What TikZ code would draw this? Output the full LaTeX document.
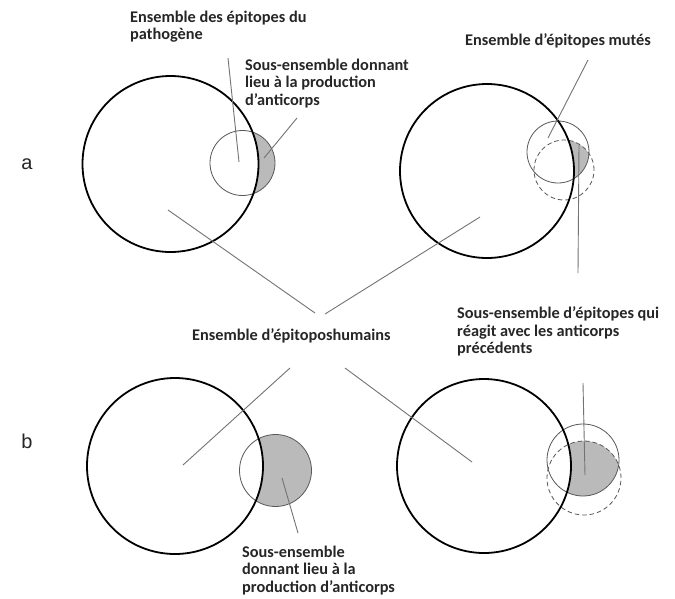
\documentclass[tikz,border=0pt]{standalone}
\usepackage{fontspec}
\setmainfont{Carlito}
\newfontfamily\letterfont{Liberation Sans}
\begin{document}
\begin{tikzpicture}[x=1pt,y=-1pt,
  bigc/.style={draw=black,line width=1.8pt},
  smallc/.style={draw=black!65,line width=0.8pt},
  dashc/.style={draw=black!65,line width=0.8pt,dash pattern=on 4.5pt off 3pt},
  conn/.style={draw=black!55,line width=0.9pt},
  shade/.style={fill=black!27},
  lbl/.style={font=\fontsize{16.3}{17.5}\selectfont\bfseries,text=black!85,inner sep=0pt,align=left,anchor=north west},
  letter/.style={font=\letterfont\fontsize{20}{22}\selectfont,text=black!85,inner sep=0pt}]
\fill[white] (0,0) rectangle (675,598);
\useasboundingbox (0,0) rectangle (675,598);

% circle centres
\coordinate (c1) at (170.5,164);
\coordinate (s1) at (242.5,163);
\coordinate (c2) at (487,171);
\coordinate (s2) at (558,152);
\coordinate (d2) at (564,170);
\coordinate (c3) at (175,466);
\coordinate (s3) at (275.5,470.5);
\coordinate (c4) at (484,466);
\coordinate (s4) at (583,460);
\coordinate (d4) at (584,478);

% shaded regions
\begin{scope}
  \clip (s1) circle[radius=32.5pt];
  \fill[shade] (s1) circle[radius=32.5pt];
  \fill[white] (c1) circle[radius=88pt];
\end{scope}
\begin{scope}
  \clip (s2) circle[radius=31pt];
  \clip (d2) circle[radius=30pt];
  \fill[shade] (s2) circle[radius=31pt];
  \fill[white] (c2) circle[radius=87pt];
\end{scope}
\begin{scope}
  \clip (s3) circle[radius=36pt];
  \fill[shade] (s3) circle[radius=36pt];
  \fill[white] (c3) circle[radius=88pt];
\end{scope}
\begin{scope}
  \clip (s4) circle[radius=36pt];
  \clip (d4) circle[radius=37pt];
  \fill[shade] (s4) circle[radius=36pt];
  \fill[white] (c4) circle[radius=87pt];
\end{scope}

% small circles
\draw[smallc] (s1) circle[radius=32.5pt];
\draw[smallc] (s2) circle[radius=31pt];
\draw[dashc] (d2) circle[radius=30pt];
\draw[smallc] (s3) circle[radius=36pt];
\draw[smallc] (s4) circle[radius=36pt];
\draw[dashc] (d4) circle[radius=37pt];

% big circles
\draw[bigc] (c1) circle[radius=88pt];
\draw[bigc] (c2) circle[radius=87pt];
\draw[bigc] (c3) circle[radius=88pt];
\draw[bigc] (c4) circle[radius=87pt];

% labels
\node[letter] (la) at (27,164) {a};
\node[letter] (lb) at (27,441) {b};
\node[lbl] (t1) at (130,10.5) {Ensemble des épitopes du\\pathogène};
\node[lbl] (t2) at (245,58.5) {Sous-ensemble donnant\\lieu à la production\\d’anticorps};
\node[lbl] (t3) at (465,33.5) {Ensemble d’épitopes mutés};
\node[lbl] (t4) at (457,306.5) {Sous-ensemble d’épitopes qui\\réagit avec les anticorps\\précédents};
\node[lbl] (t5) at (192,328.5) {Ensemble d’épitoposhumains};
\node[lbl] (t6) at (242,545.5) {Sous-ensemble\\donnant lieu à la\\production d’anticorps};

% connector end points
\coordinate (p1a) at (228,58);   \coordinate (p1b) at (239,162);
\coordinate (p2a) at (264,158);  \coordinate (p2b) at (297,118);
\coordinate (p3a) at (168,210);  \coordinate (p3b) at (315,313);
\coordinate (p4a) at (325,314);  \coordinate (p4b) at (480,217);
\coordinate (p5a) at (588,60);   \coordinate (p5b) at (548,138);
\coordinate (p6a) at (579,145);  \coordinate (p6b) at (578,273);
\coordinate (p7a) at (290,368);  \coordinate (p7b) at (183,465);
\coordinate (p8a) at (345,368);  \coordinate (p8b) at (472,462);
\coordinate (p9a) at (282,478);  \coordinate (p9b) at (298,533);
\coordinate (p10a) at (585,475); \coordinate (p10b) at (583,383);

\draw[conn] (p1a) -- (p1b);
\draw[conn] (p2a) -- (p2b);
\draw[conn] (p3a) -- (p3b);
\draw[conn] (p4a) -- (p4b);
\draw[conn] (p5a) -- (p5b);
\draw[conn] (p6a) -- (p6b);
\draw[conn] (p7a) -- (p7b);
\draw[conn] (p8a) -- (p8b);
\draw[conn] (p9a) -- (p9b);
\draw[conn] (p10a) -- (p10b);
\end{tikzpicture}
\end{document}
